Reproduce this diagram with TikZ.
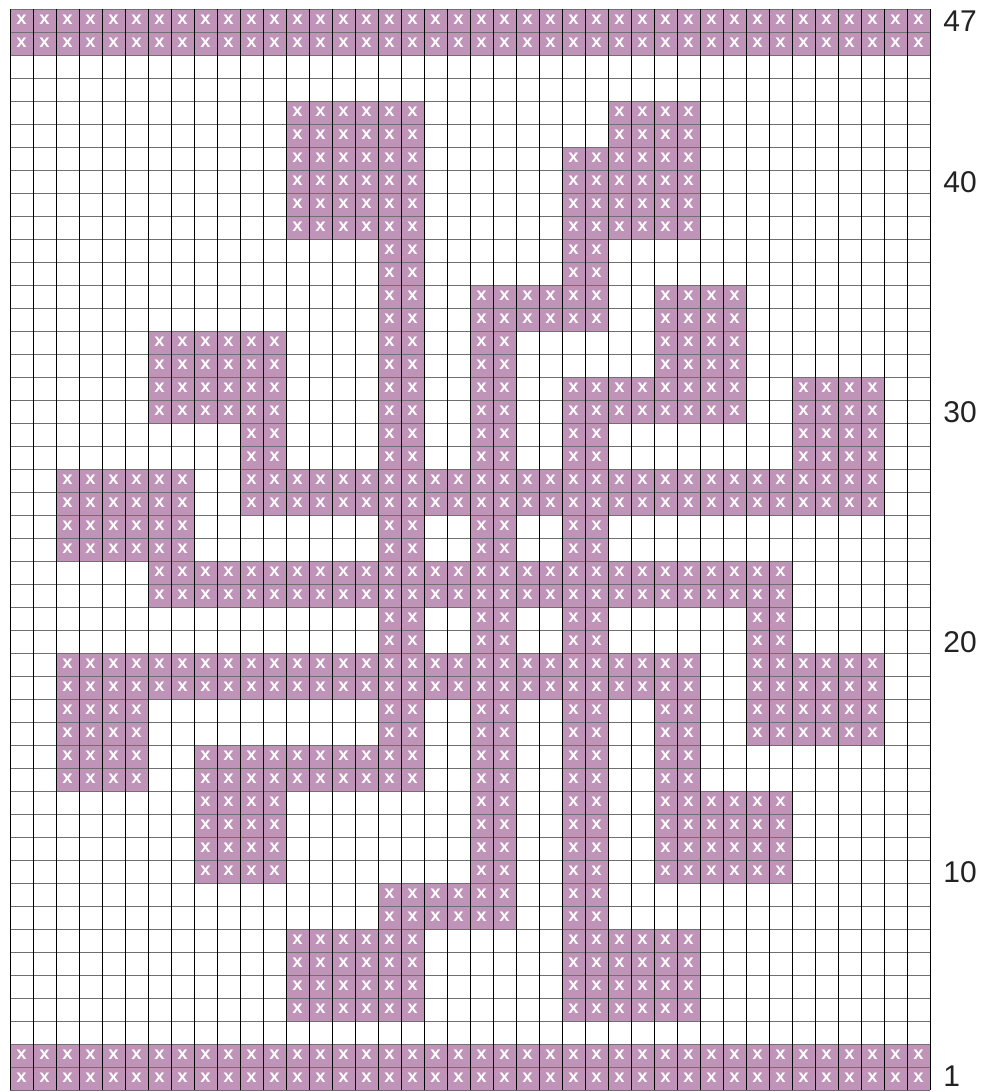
\documentclass[tikz,border=0pt]{standalone}
\usepackage{fontspec}
\setmainfont{Liberation Sans}
\newfontfamily\xmarkfont{Liberation Mono}
\definecolor{stitch}{HTML}{C094B8}
\definecolor{hgrid}{HTML}{707070}
\definecolor{labelgray}{HTML}{222222}
\tikzset{
  cellfill/.style={fill=stitch},
  xmark/.style={text=white,font=\xmarkfont\bfseries\fontsize{18}{18}\selectfont,inner sep=0pt},
  vgrid/.style={draw=black,line width=0.9pt},
  hgridline/.style={draw=hgrid,line width=1.5pt},
  rowlabel/.style={anchor=west,text=labelgray,font=\fontsize{30}{30}\selectfont,inner sep=0pt},
}
\begin{document}
\begin{tikzpicture}
\useasboundingbox (0,0) rectangle (993pt,1092pt);
\begin{scope}[shift={(10pt,1.7pt)},x=23pt,y=23pt]
\foreach \ra/\rb/\ca/\cb in {
 46/47/1/40, 1/2/1/40,
 42/43/13/18, 42/43/27/30,
 38/41/13/18, 38/41/25/30,
 36/37/17/18, 36/37/25/26,
 34/35/17/18, 34/35/21/26, 34/35/29/32,
 32/33/7/12, 32/33/17/18, 32/33/21/22, 32/33/29/32,
 30/31/7/12, 30/31/17/18, 30/31/21/22, 30/31/25/32, 30/31/35/38,
 28/29/11/12, 28/29/17/18, 28/29/21/22, 28/29/25/26, 28/29/35/38,
 26/27/3/8, 26/27/11/38,
 24/25/3/8, 24/25/17/18, 24/25/21/22, 24/25/25/26,
 22/23/7/34,
 20/21/17/18, 20/21/21/22, 20/21/25/26, 20/21/33/34,
 18/19/3/30, 18/19/33/38,
 16/17/3/6, 16/17/17/18, 16/17/21/22, 16/17/25/26, 16/17/29/30, 16/17/33/38,
 14/15/3/6, 14/15/9/18, 14/15/21/22, 14/15/25/26, 14/15/29/30,
 10/13/9/12, 10/13/21/22, 10/13/25/26, 10/13/29/34,
 8/9/17/22, 8/9/25/26,
 4/7/13/18, 4/7/25/30}
{
  \foreach \r in {\ra,...,\rb} {
    \foreach \c in {\ca,...,\cb} {
      \fill[cellfill] (\c-1,\r-1) rectangle (\c,\r);
      \node[xmark] (x-\c-\r) at (\c-0.5,\r-0.47) {x};
    }
  }
}
\foreach \j in {0,...,47} \draw[hgridline] (0,\j) -- (40,\j);
\foreach \i in {0,...,40} \draw[vgrid] (\i,0) -- (\i,47);
\foreach \n/\r in {47/46.5,40/39.5,30/29.5,20/19.5,10/9.5,1/0.62}
  \node[rowlabel] (label-\n) at (40.57,\r) {\n};
\end{scope}
\end{tikzpicture}
\end{document}
